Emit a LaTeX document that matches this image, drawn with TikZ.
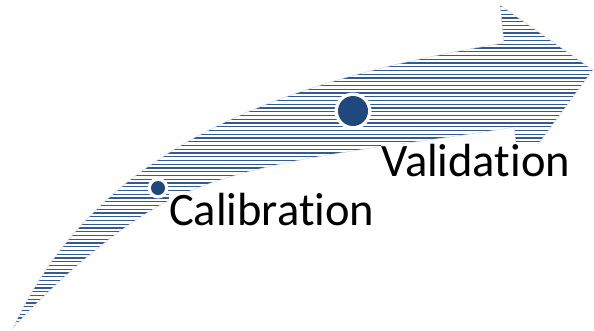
\documentclass[tikz,border=0pt]{standalone}
\usepackage{fontspec}
\setmainfont{Carlito}[Ligatures=NoCommon, RawFeature=-liga]
\definecolor{stripeblue}{RGB}{52,90,148}
\definecolor{dotblue}{RGB}{31,73,125}
\tikzset{
  stripe/.style={draw=stripeblue, line width=1.1pt},
  edge/.style={draw=black!15, line width=0.5pt},
  dotring/.style={circle, fill=white, inner sep=0pt},
  dotcore/.style={circle, fill=dotblue, inner sep=0pt},
  label/.style={font=\fontsize{46.5}{50}\selectfont, text=black, fill=white, inner sep=0pt, anchor=base west}
}
\begin{document}
\begin{tikzpicture}[x=1pt,y=-1pt]
\useasboundingbox (0,0) rectangle (594,330);
% striped curved arrow
\begin{scope}
  \clip (13,328) .. controls (88,168) and (238,87) .. (504,43) -- (500,5) -- (593,70) -- (519,170) -- (514,127)
        .. controls (400,147) and (260,155) .. (170,200) .. controls (110,230) and (43,295) .. (13,328) -- cycle;
  \foreach \i in {0,...,88} \draw[stripe] (0,{3+\i*3.75}) -- (594,{3+\i*3.75});
\end{scope}
\path[edge] (13,328) .. controls (88,168) and (238,87) .. (504,43) -- (500,5) -- (593,70) -- (519,170) -- (514,127)
        .. controls (400,147) and (260,155) .. (170,200) .. controls (110,230) and (43,295) .. (13,328) -- cycle;
% dots
\node[dotring, minimum size=37pt] (bigring) at (353,111) {};
\node[dotcore, minimum size=30pt] (bigdot) at (353,111) {};
\node[dotring, minimum size=21pt] (smallring) at (158,188) {};
\node[dotcore, minimum size=14pt] (smalldot) at (158,188) {};
% labels
\node[label] (val) at (381,176) {Validation};
\node[label] (cal) at (169,225) {Calibration};
\end{tikzpicture}
\end{document}
